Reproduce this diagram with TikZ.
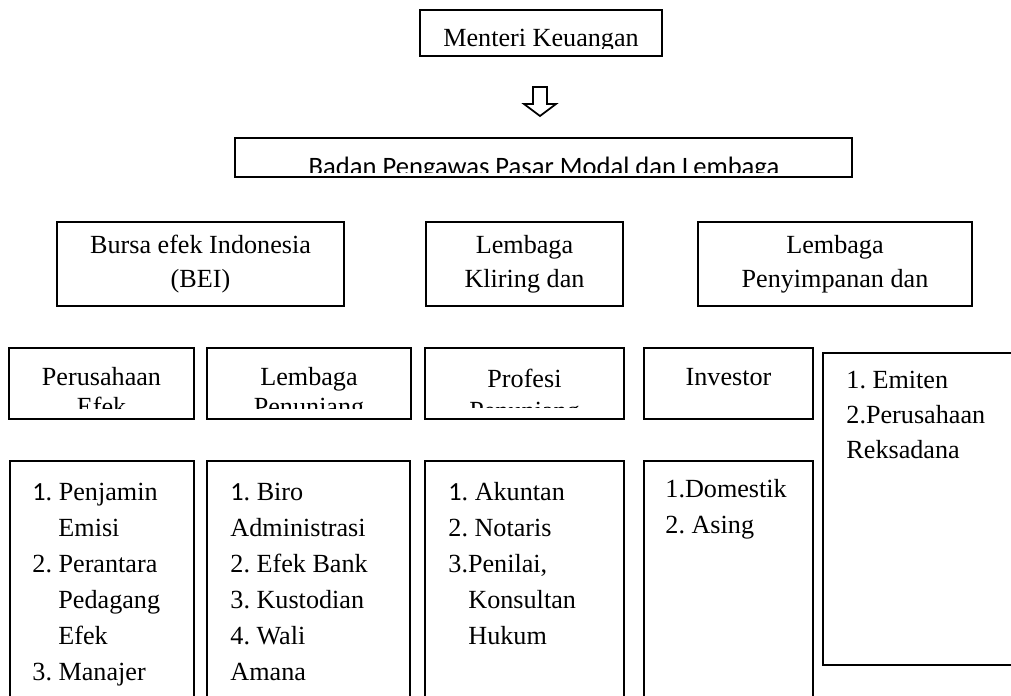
\documentclass[tikz,border=0pt]{standalone}
\usepackage{fontspec}
\setmainfont{Liberation Serif}
\newfontfamily\calibri{Carlito}
\usetikzlibrary{fit}
\frenchspacing
\begin{document}
\begin{tikzpicture}[x=0.4587pt,y=-0.4587pt,
  box/.style={draw=black,line width=0.9pt,inner sep=0pt},
  txt/.style={inner sep=0pt,anchor=base,font=\fontsize{12}{14}\selectfont},
  ltxt/.style={inner sep=0pt,anchor=base west,font=\fontsize{12}{14}\selectfont}]
\clip (0,0) rectangle (1011,696);
\fill[white] (0,0) rectangle (1011,696);

% top
\node[box,fit={(420,10) (662,56)}] (menteri) {};
\begin{scope}\clip (421,11) rectangle (661,48);
\node[txt] (menteriT) at (541,46) {Menteri Keuangan};
\end{scope}
% hollow block arrow
\draw[line width=0.8pt,line join=miter] (533,87) -- (547,87) -- (547,104) -- (556,104)
  -- (540,116) -- (524,104) -- (533,104) -- cycle;

\node[box,fit={(235,138) (852,177)}] (badan) {};
\begin{scope}\clip (236,139) rectangle (851,172);
\node[txt,font=\calibri\fontsize{12.2}{14}\selectfont] (badanT) at (544,175) {Badan Pengawas Pasar Modal dan Lembaga};
\end{scope}

% row 2
\node[box,fit={(57,222) (344,306)}] (bursa) {};
\node[txt] (bursaA) at (200.5,253) {Bursa efek Indonesia};
\node[txt] (bursaB) at (200.5,287) {(BEI)};
\node[box,fit={(426,222) (623,306)}] (kliring) {};
\node[txt] (kliringA) at (524.5,253) {Lembaga};
\node[txt] (kliringB) at (524.5,287) {Kliring dan};
\node[box,fit={(698,222) (972,306)}] (simpan) {};
\node[txt] (simpanA) at (835,253) {Lembaga};
\node[txt] (simpanB) at (835,287) {Penyimpanan dan};

% row 3
\node[box,fit={(9,348) (194,419)}] (pe) {};
\begin{scope}\clip (10,349) rectangle (193,408);
\node[txt] (peA) at (101.5,385) {Perusahaan};
\node[txt] (peB) at (101.5,415) {Efek};
\end{scope}
\node[box,fit={(207,348) (411,419)}] (lp) {};
\begin{scope}\clip (208,349) rectangle (410,408);
\node[txt] (lpA) at (309,385) {Lembaga};
\node[txt] (lpB) at (309,415) {Penunjang};
\end{scope}
\node[box,fit={(425,348) (624,419)}] (pp) {};
\begin{scope}\clip (426,349) rectangle (623,407);
\node[txt] (ppA) at (524.5,387) {Profesi};
\node[txt] (ppB) at (524.5,419) {Penunjang};
\end{scope}
\node[box,fit={(644,348) (813,419)}] (inv) {};
\node[txt] (invA) at (728.5,385) {Investor};
\node[box,fit={(823,353) (1030,665)}] (emiten) {};
\node[ltxt] (emA) at (846,388) {1. Emiten};
\node[ltxt] (emB) at (846,423) {2.Perusahaan};
\node[ltxt] (emC) at (846,458) {Reksadana};

% row 4
\node[box,fit={(10,461) (194,720)}] (l1) {};
\node[ltxt] (l1a) at (32,500) {{\calibri 1}. Penjamin};
\node[ltxt] (l1b) at (58,536) {Emisi};
\node[ltxt] (l1c) at (32,572) {2. Perantara};
\node[ltxt] (l1d) at (58,608) {Pedagang};
\node[ltxt] (l1e) at (58,644) {Efek};
\node[ltxt] (l1f) at (32,680) {3. Manajer};

\node[box,fit={(207,461) (410,720)}] (l2) {};
\node[ltxt] (l2a) at (230,500) {{\calibri 1}. Biro};
\node[ltxt] (l2b) at (230,536) {Administrasi};
\node[ltxt] (l2c) at (230,572) {2. Efek Bank};
\node[ltxt] (l2d) at (230,608) {3. Kustodian};
\node[ltxt] (l2e) at (230,644) {4. Wali};
\node[ltxt] (l2f) at (230,680) {Amana};

\node[box,fit={(425,461) (624,720)}] (l3) {};
\node[ltxt] (l3a) at (448,500) {{\calibri 1}. Akuntan};
\node[ltxt] (l3b) at (448,536) {2. Notaris};
\node[ltxt] (l3c) at (448,572) {3.Penilai,};
\node[ltxt] (l3d) at (468,608) {Konsultan};
\node[ltxt] (l3e) at (468,644) {Hukum};

\node[box,fit={(644,461) (813,720)}] (l4) {};
\node[ltxt] (l4a) at (665,497) {1.Domestik};
\node[ltxt] (l4b) at (665,533) {2. Asing};
\end{tikzpicture}
\end{document}
